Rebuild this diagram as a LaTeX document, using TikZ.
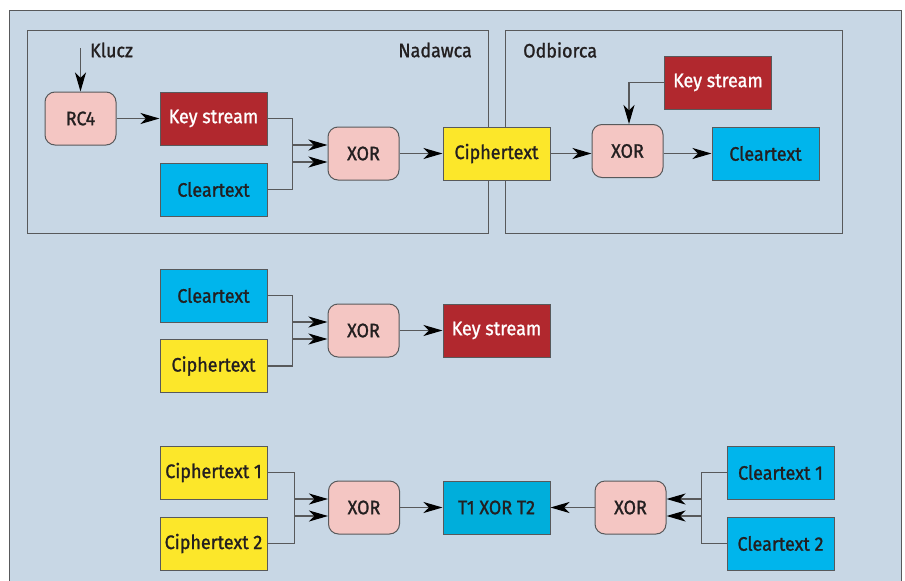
\documentclass[tikz,border=0pt]{standalone}
\usepackage{fontspec}
\setmainfont{Fira Sans}[FakeStretch=0.92, FakeBold=1.2]
\usetikzlibrary{arrows.meta}
\definecolor{bgc}{HTML}{C8D7E5}
\definecolor{linec}{HTML}{58595B}
\definecolor{pinkc}{HTML}{F4C6C3}
\definecolor{redc}{HTML}{B1282E}
\definecolor{bluec}{HTML}{00B5EC}
\definecolor{blued}{HTML}{00AEDB}
\definecolor{yellc}{HTML}{FCE72A}
\definecolor{textc}{HTML}{231F20}
\tikzset{
  box/.style={draw=linec, line width=1pt, minimum width=107pt, minimum height=53pt,
    inner sep=0pt, font=\fontsize{19.5}{22}\selectfont, text=textc},
  xorbox/.style={box, rounded corners=10pt, fill=pinkc, minimum width=71pt},
  keybox/.style={box, fill=redc, text=white},
  clearbox/.style={box, fill=bluec},
  cipherbox/.style={box, fill=yellc},
  tbox/.style={box, fill=blued},
  conn/.style={draw=linec, line width=1.2pt, -{Stealth[length=19pt,width=11pt,inset=5.5pt,color=black]}},
  frame/.style={draw=linec, line width=1pt},
  lbl/.style={font=\fontsize{19.5}{22}\selectfont, text=textc, inner sep=0pt}
}
\begin{document}
\begin{tikzpicture}[x=1pt,y=-1pt]
\useasboundingbox (0,0) rectangle (905,581);
\fill[bgc] (9,10) rectangle (901,581);
\draw[frame] (9,581) -- (9,10) -- (901,10) -- (901,581);
\draw[frame] (27,30) rectangle (488,233);
\draw[frame] (505,30) rectangle (842,233);
\node[lbl, anchor=west] (klucz) at (90,50) {Klucz};
\node[lbl, anchor=east] (nad) at (472,50) {Nadawca};
\node[lbl, anchor=west] (odb) at (523,50) {Odbiorca};
\coordinate (kin) at (80.5,48);
% top row
\node[xorbox] (rc4) at (80.5,118.5) {RC4};
\node[keybox] (ks1) at (213.5,118.5) {Key stream};
\node[clearbox] (cl1) at (213.5,189.5) {Cleartext};
\node[xorbox] (x1) at (363.5,153.5) {XOR};
\node[cipherbox] (ci1) at (496.5,153.5) {Ciphertext};
\node[xorbox] (x2) at (627.5,151) {XOR};
\node[keybox] (ks2) at (718,82.5) {Key stream};
\node[clearbox] (cl2) at (765.5,153.5) {Cleartext};
\draw[conn] (kin) -- (rc4.north);
\draw[conn] (rc4) -- (ks1);
\draw[conn] (ks1.east) -- ++(25,0) |- ([yshift=-8.5pt]x1.west);
\draw[conn] (cl1.east) -- ++(25,0) |- ([yshift=8.5pt]x1.west);
\draw[conn] (x1) -- (ci1);
\draw[conn] (ci1.east) -- (ci1.east -| x2.west);
\draw[conn] (ks2.west) -| ([xshift=1.5pt]x2.north);
\draw[conn] (x2.east |- cl2.west) -- (cl2.west);
% middle row
\node[clearbox] (cl3) at (213.5,295.5) {Cleartext};
\node[cipherbox] (ci3) at (213.5,366) {Ciphertext};
\node[xorbox] (x3) at (363.5,330.5) {XOR};
\node[keybox] (ks3) at (496.5,330.5) {Key stream};
\draw[conn] (cl3.east) -- ++(25,0) |- ([yshift=-8.5pt]x3.west);
\draw[conn] (ci3.east) -- ++(25,0) |- ([yshift=8.5pt]x3.west);
\draw[conn] (x3) -- (ks3);
% bottom row
\node[cipherbox] (ci4) at (213.5,472.5) {Ciphertext 1};
\node[cipherbox] (ci5) at (213.5,543.5) {Ciphertext 2};
\node[xorbox] (x4) at (364,507.5) {XOR};
\node[tbox] (t12) at (496.5,507.5) {T1 XOR T2};
\node[xorbox] (x5) at (630.5,507.5) {XOR};
\node[clearbox] (cl4) at (780.5,472.5) {Cleartext 1};
\node[clearbox] (cl5) at (780.5,543.5) {Cleartext 2};
\draw[conn] (ci4.east) -- ++(27,0) |- ([yshift=-8.5pt]x4.west);
\draw[conn] (ci5.east) -- ++(27,0) |- ([yshift=8.5pt]x4.west);
\draw[conn] (x4) -- (t12);
\draw[conn] (x5) -- (t12);
\draw[conn] (cl4.west) -- ++(-25,0) |- ([yshift=-8.5pt]x5.east);
\draw[conn] (cl5.west) -- ++(-25,0) |- ([yshift=8.5pt]x5.east);
\end{tikzpicture}
\end{document}
